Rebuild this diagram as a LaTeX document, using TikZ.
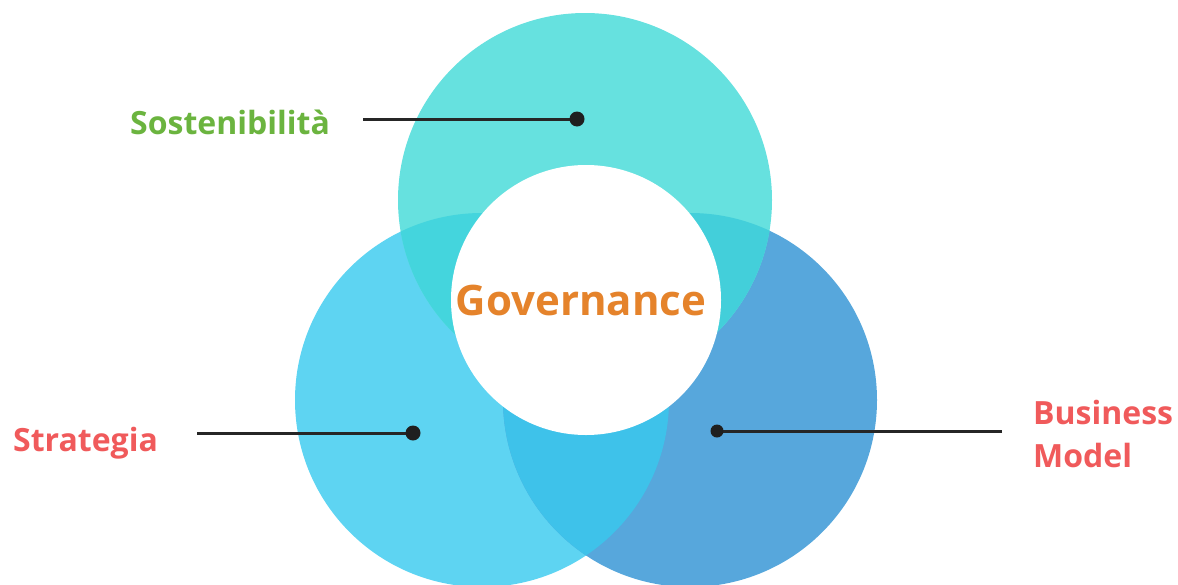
\documentclass[tikz,border=0pt]{standalone}
\usepackage{fontspec}
\setmainfont{Open Sans}

\definecolor{topblue}{HTML}{66E1DF}
\definecolor{leftblue}{HTML}{5ED4F2}
\definecolor{rightblue}{HTML}{57A7DC}
\definecolor{topleft}{HTML}{44D5DD}
\definecolor{topright}{HTML}{43CFDA}
\definecolor{leftright}{HTML}{3EC2EA}
\definecolor{labgreen}{HTML}{6BB43F}
\definecolor{labred}{HTML}{F05A5B}
\definecolor{laborange}{HTML}{E5832B}

\begin{document}
\begin{tikzpicture}[x=1pt, y=-1pt,
    dot/.style={circle, fill=black!88, minimum size=15pt, inner sep=0pt},
    lbl/.style={font=\bfseries\fontsize{32}{43}\selectfont, inner sep=0pt},
    lead/.style={line width=3pt, draw=black!85}
]
    \useasboundingbox (0,0) rectangle (1178,584);

    \coordinate (ctop)   at (585, 200);
    \coordinate (cleft)  at (482, 400);
    \coordinate (cright) at (690, 400);

    % three rings
    \fill[leftblue]  (cleft)  circle (187);
    \fill[rightblue] (cright) circle (187);
    \fill[topblue]   (ctop)   circle (187);

    % overlaps
    \begin{scope}
        \clip (ctop) circle (187);
        \fill[topleft]  (cleft)  circle (187);
        \fill[topright] (cright) circle (187);
    \end{scope}
    \begin{scope}
        \clip (cleft) circle (187);
        \fill[leftright] (cright) circle (187);
    \end{scope}

    \node[circle, fill=white, minimum size=270pt, inner sep=0pt] (core) at (586, 300) {};
    \node[font=\bfseries\fontsize{42}{50}\selectfont, text=laborange, inner sep=0pt] (gov) at (581, 300) {Governance};

    \node[lbl, text=labgreen, anchor=base west] (sost)  at (130, 134)  {Sostenibilità};
    \node[lbl, text=labred,   anchor=base west] (strat) at (13, 451)   {Strategia};
    \node[lbl, text=labred,   anchor=north west, align=left] (biz) at (1033, 400) {Business\\Model};

    \coordinate (sostend)  at (363, 119);
    \coordinate (stratend) at (197, 433);
    \coordinate (bizend)   at (1002, 431);

    \draw[lead] (sostend)  -- (577, 119) node[dot] (sostdot)  {};
    \draw[lead] (stratend) -- (413, 433) node[dot] (stratdot) {};
    \draw[lead] (bizend)   -- (717, 431) node[dot, minimum size=13pt] (bizdot) {};
\end{tikzpicture}
\end{document}
